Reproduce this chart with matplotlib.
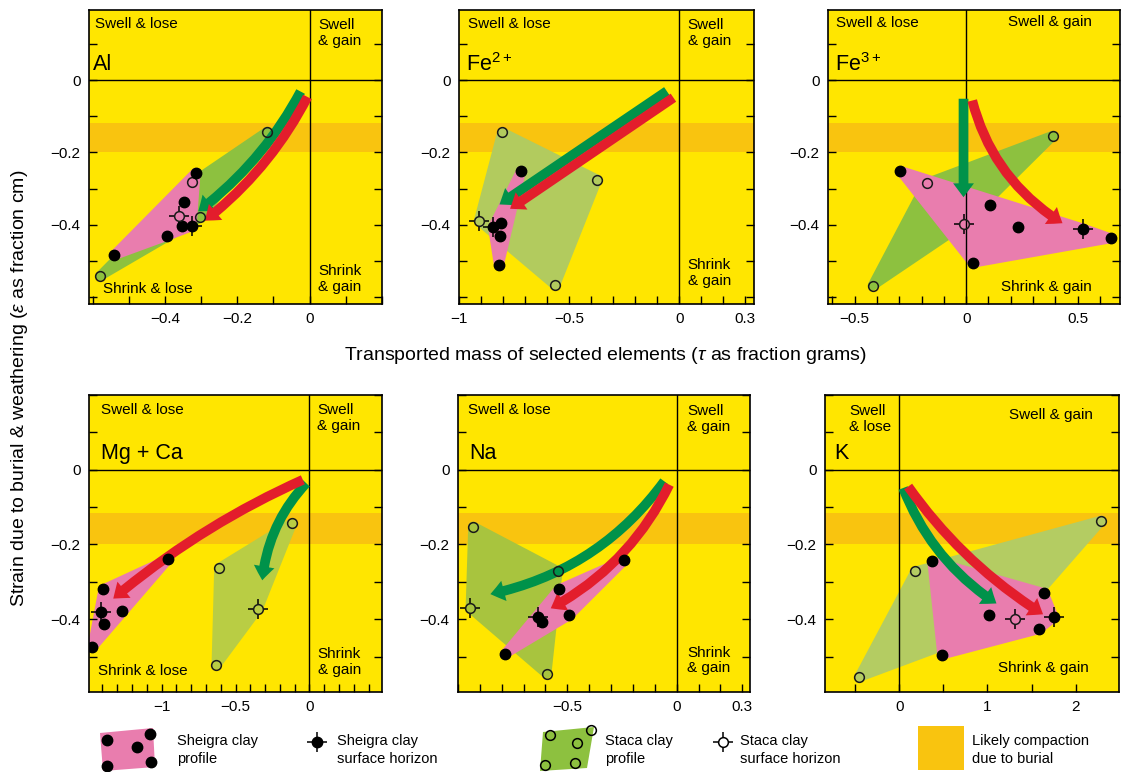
import numpy as np
import matplotlib
matplotlib.use('Agg')
import matplotlib.pyplot as plt
from matplotlib.patches import Polygon, FancyArrowPatch, Rectangle
from matplotlib.path import Path
from matplotlib.ticker import MultipleLocator, FixedLocator, FuncFormatter

plt.rcParams['font.family'] = ['Liberation Sans', 'DejaVu Sans']
plt.rcParams['mathtext.fontset'] = 'custom'
plt.rcParams['mathtext.rm'] = 'Liberation Sans'
plt.rcParams['mathtext.it'] = 'Liberation Sans:italic'

YELLOW = '#FFE600'
ORANGE = '#F9C40F'
PINK = '#E97DAE'
GREEN_ARROW = '#00924A'
RED_ARROW = '#E31D2C'

# likely compaction band (strain)
band = (-0.2, -0.117)

# ---- Al ----
al_sheigra = [(-0.315, -0.256), (-0.348, -0.337), (-0.354, -0.404), (-0.394, -0.431), (-0.541, -0.485)]
al_sheigra_surf = (-0.326, -0.405)
al_staca = [(-0.117, -0.142), (-0.324, -0.283), (-0.302, -0.380), (-0.579, -0.542)]
al_staca_surf = (-0.360, -0.377)
al_green = [(-0.025, -0.031), (-0.308, -0.363)]
al_red = [(-0.006, -0.046), (-0.290, -0.389)]

# ---- Fe2+ ----
fe2_sheigra = [(-0.718, -0.251), (-0.809, -0.396), (-0.816, -0.431), (-0.819, -0.513)]
fe2_sheigra_surf = (-0.846, -0.407)
fe2_staca = [(-0.804, -0.144), (-0.372, -0.275), (-0.563, -0.568)]
fe2_staca_surf = (-0.910, -0.389)
fe2_green = [(-0.056, -0.030), (-0.816, -0.344)]
fe2_red = [(-0.026, -0.048), (-0.768, -0.356)]

# ---- Fe3+ ----
fe3_sheigra = [(-0.295, -0.251), (0.109, -0.345), (0.231, -0.407), (0.649, -0.438), (0.030, -0.506)]
fe3_sheigra_surf = (0.526, -0.411)
fe3_staca = [(0.390, -0.153), (-0.178, -0.285), (-0.420, -0.569)]
fe3_staca_surf = (-0.010, -0.398)
fe3_green = [(-0.012, -0.051), (-0.012, -0.324)]
fe3_red = [(0.027, -0.056), (0.432, -0.396)]

# ---- Mg + Ca ----
mgca_sheigra = [(-0.955, -0.240), (-1.393, -0.320), (-1.265, -0.378), (-1.389, -0.414), (-1.467, -0.475)]
mgca_sheigra_surf = (-1.411, -0.381)
mgca_staca = [(-0.117, -0.143), (-0.611, -0.263), (-0.629, -0.522)]
mgca_staca_surf = (-0.348, -0.372)
mgca_green = [(-0.022, -0.036), (-0.319, -0.296)]
mgca_red = [(-0.045, -0.027), (-1.326, -0.345)]

# ---- Na ----
na_sheigra = [(-0.240, -0.243), (-0.538, -0.320), (-0.492, -0.390), (-0.615, -0.408), (-0.783, -0.492)]
na_sheigra_surf = (-0.635, -0.394)
na_staca = [(-0.931, -0.152), (-0.544, -0.271), (-0.595, -0.546)]
na_staca_surf = (-0.943, -0.371)
na_green = [(-0.057, -0.031), (-0.852, -0.333)]
na_red = [(-0.034, -0.040), (-0.576, -0.371)]

# ---- K ----
k_sheigra = [(0.374, -0.245), (1.638, -0.330), (1.015, -0.389), (1.581, -0.427), (0.487, -0.495)]
k_sheigra_surf = (1.751, -0.395)
k_staca = [(2.291, -0.136), (0.185, -0.272), (-0.453, -0.555)]
k_staca_surf = (1.317, -0.399)
k_green = [(0.045, -0.049), (1.102, -0.358)]
k_red = [(0.102, -0.045), (1.630, -0.387)]

y_ticks = [-0.4, -0.2, 0]


def convex_hull(points):
    pts = sorted(set(points))

    def cross(o, a, b):
        return (a[0] - o[0]) * (b[1] - o[1]) - (a[1] - o[1]) * (b[0] - o[0])

    lower, upper = [], []
    for p in pts:
        while len(lower) >= 2 and cross(lower[-2], lower[-1], p) <= 0:
            lower.pop()
        lower.append(p)
    for p in reversed(pts):
        while len(upper) >= 2 and cross(upper[-2], upper[-1], p) <= 0:
            upper.pop()
        upper.append(p)
    return lower[:-1] + upper[:-1]


# crosshair marker (ticks outside the circle only)
cross_path = Path([(0.5, 0), (1, 0), (-0.5, 0), (-1, 0), (0, 0.5), (0, 1), (0, -0.5), (0, -1)],
                  [Path.MOVETO, Path.LINETO] * 4)


def fmt(v, pos=None):
    return ('%g' % v).replace('-', '\u2212')


panels = [
    dict(name='Al', sheigra=al_sheigra, sheigra_surf=al_sheigra_surf, staca=al_staca,
         staca_surf=al_staca_surf, green=al_green, red=al_red, rad_g=-0.11, rad_r=-0.11,
         xlim=(-0.61, 0.2), xticks=[-0.4, -0.2, 0], xminor=0.1, ylim=(-0.62, 0.195),
         pos=(89, 10, 293, 294), poly='#8DC13F',
         texts=[('Swell & lose', 0.020, 0.952), ('Swell\n& gain', 0.782, 0.922),
                ('Shrink & lose', 0.048, 0.051), ('Shrink\n& gain', 0.782, 0.085)],
         label_xy=(0.014, 0.813)),
    dict(name='Fe$^{2+}$', sheigra=fe2_sheigra, sheigra_surf=fe2_sheigra_surf, staca=fe2_staca,
         staca_surf=fe2_staca_surf, green=fe2_green, red=fe2_red, rad_g=0.0, rad_r=0.0,
         xlim=(-1.0, 0.34), xticks=[-1, -0.5, 0, 0.3], xminor=0.1, ylim=(-0.62, 0.195),
         pos=(459, 10, 295, 294), poly='#B2CB5E',
         texts=[('Swell & lose', 0.031, 0.952), ('Swell\n& gain', 0.775, 0.922),
                ('Shrink\n& gain', 0.775, 0.105)],
         label_xy=(0.023, 0.816)),
    dict(name='Fe$^{3+}$', sheigra=fe3_sheigra, sheigra_surf=fe3_sheigra_surf, staca=fe3_staca,
         staca_surf=fe3_staca_surf, green=fe3_green, red=fe3_red, rad_g=0.0, rad_r=0.2,
         xlim=(-0.62, 0.69), xticks=[-0.5, 0, 0.5], xminor=0.1, ylim=(-0.62, 0.195),
         pos=(828, 10, 292, 294), poly='#8DC13F',
         texts=[('Swell & lose', 0.027, 0.955), ('Swell & gain', 0.616, 0.958),
                ('Shrink & gain', 0.592, 0.059)],
         label_xy=(0.024, 0.816)),
    dict(name='Mg + Ca', sheigra=mgca_sheigra, sheigra_surf=mgca_sheigra_surf, staca=mgca_staca,
         staca_surf=mgca_staca_surf, green=mgca_green, red=mgca_red, rad_g=0.17, rad_r=0.07,
         xlim=(-1.49, 0.49), xticks=[-1, -0.5, 0], xminor=0.1, ylim=(-0.595, 0.2),
         pos=(89, 395, 293, 297), poly='#B9CD44',
         texts=[('Swell & lose', 0.040, 0.949), ('Swell\n& gain', 0.779, 0.923),
                ('Shrink & lose', 0.032, 0.071), ('Shrink\n& gain', 0.781, 0.101)],
         label_xy=(0.040, 0.804)),
    dict(name='Na', sheigra=na_sheigra, sheigra_surf=na_sheigra_surf, staca=na_staca,
         staca_surf=na_staca_surf, green=na_green, red=na_red, rad_g=-0.19, rad_r=-0.16,
         xlim=(-1.0, 0.335), xticks=[-0.5, 0, 0.3], xminor=0.1, ylim=(-0.595, 0.2),
         pos=(458, 395, 292, 297), poly='#A8C43E',
         texts=[('Swell & lose', 0.035, 0.949), ('Swell\n& gain', 0.785, 0.920),
                ('Shrink\n& gain', 0.785, 0.106)],
         label_xy=(0.038, 0.804)),
    dict(name='K', sheigra=k_sheigra, sheigra_surf=k_sheigra_surf, staca=k_staca,
         staca_surf=k_staca_surf, green=k_green, red=k_red, rad_g=0.16, rad_r=0.1,
         xlim=(-0.84, 2.49), xticks=[0, 1, 2], xminor=0.5, ylim=(-0.595, 0.2),
         pos=(825, 395, 294, 297), poly='#B4CC62',
         texts=[('Swell\n& lose', 0.083, 0.920), ('Swell & gain', 0.627, 0.933),
                ('Shrink & gain', 0.590, 0.082)],
         label_xy=(0.031, 0.804)),
]

W, H = 1122, 772
fig = plt.figure(figsize=(W / 100, H / 100), dpi=100)


def add_arrow(ax, seg, rad, color):
    arr = FancyArrowPatch(seg[0], seg[1], connectionstyle=f'arc3,rad={rad}',
                          arrowstyle='simple,head_length=10,head_width=15,tail_width=7',
                          mutation_scale=1, color=color, lw=0, shrinkA=0, shrinkB=0, zorder=2)
    ax.add_patch(arr)


for p in panels:
    left, top, w, h = p['pos']
    ax = fig.add_axes([left / W, 1 - (top + h) / H, w / W, h / H])
    ax.set_facecolor(YELLOW)
    ax.set_xlim(*p['xlim'])
    ax.set_ylim(*p['ylim'])
    ax.axhspan(band[0], band[1], color=ORANGE, lw=0, zorder=0.5)

    staca_pts = p['staca'] + [p['staca_surf']]
    sheigra_pts = p['sheigra'] + [p['sheigra_surf']]
    ax.add_patch(Polygon(convex_hull(staca_pts), closed=True, fc=p['poly'], ec=p['poly'],
                         lw=7, joinstyle='round', zorder=1))
    ax.add_patch(Polygon(convex_hull(sheigra_pts), closed=True, fc=PINK, ec=PINK,
                         lw=7, joinstyle='round', zorder=1.1))
    ax.axhline(0, color='k', lw=1, zorder=1.5)
    ax.axvline(0, color='k', lw=1, zorder=1.5)

    add_arrow(ax, p['green'], p['rad_g'], GREEN_ARROW)
    add_arrow(ax, p['red'], p['rad_r'], RED_ARROW)

    sx, sy = zip(*p['staca'])
    ax.plot(sx, sy, 'o', ms=7, mfc='none', mec='#1a1a1a', mew=1.1, zorder=3)
    hx, hy = zip(*p['sheigra'])
    ax.plot(hx, hy, 'o', ms=7.5, mfc='k', mec='k', zorder=3)
    ax.plot(*p['staca_surf'], marker=cross_path, ms=14, mew=1.1, color='k', zorder=3)
    ax.plot(*p['staca_surf'], 'o', ms=7, mfc='none', mec='#1a1a1a', mew=1.1, zorder=3)
    ax.plot(*p['sheigra_surf'], marker=cross_path, ms=14, mew=1.1, color='k', zorder=3)
    ax.plot(*p['sheigra_surf'], 'o', ms=7.5, mfc='k', mec='k', zorder=3)

    for txt, tx, ty in p['texts']:
        ax.text(tx, ty, txt, transform=ax.transAxes, fontsize=11, ha='left', va='center',
                linespacing=1.15, zorder=4)
    ax.text(p['label_xy'][0], p['label_xy'][1], p['name'], transform=ax.transAxes,
            fontsize=15.5, ha='left', va='center', zorder=4)

    ax.xaxis.set_major_locator(FixedLocator(p['xticks']))
    ax.xaxis.set_minor_locator(MultipleLocator(p['xminor']))
    ax.yaxis.set_major_locator(FixedLocator(y_ticks))
    ax.yaxis.set_minor_locator(MultipleLocator(0.1))
    ax.xaxis.set_major_formatter(FuncFormatter(fmt))
    ax.yaxis.set_major_formatter(FuncFormatter(fmt))
    ax.tick_params(which='both', direction='in', length=6, width=1, right=True, top=False,
                   labelsize=11, pad=6)
    for s in ax.spines.values():
        s.set_linewidth(1.2)

fig.text(605 / W, 1 - 355 / H, r'Transported mass of selected elements ($\tau$ as fraction grams)',
         ha='center', va='center', fontsize=14)
fig.text(20 / W, 1 - 388 / H, r'Strain due to burial & weathering ($\varepsilon$ as fraction cm)',
         ha='center', va='center', fontsize=14, rotation=90)

# ---- legend strip (pixel coordinates of the figure) ----
lg = fig.add_axes([0, 0, 1, 52 / H])
lg.set_xlim(0, W)
lg.set_ylim(H, H - 52)
lg.axis('off')

lg.add_patch(Polygon([(100, 733), (153, 728), (155, 767), (103, 771)], fc=PINK, ec='none'))
lg.plot([107, 150, 137, 107, 151], [740, 734, 747, 766, 762], 'o', ms=7.5, color='k')
lg.text(177, 750, 'Sheigra clay\nprofile', fontsize=10.5, va='center', linespacing=1.3)

lg.plot(317, 742, marker=cross_path, ms=14, mew=1.1, color='k')
lg.plot(317, 742, 'o', ms=7.5, color='k')
lg.text(337, 750, 'Sheigra clay\nsurface horizon', fontsize=10.5, va='center', linespacing=1.3)

lg.add_patch(Polygon([(543, 732), (594, 727), (587, 768), (540, 771)], fc='#8DC13F', ec='none'))
lg.plot([550, 591, 577, 545, 575], [735, 730, 743, 765, 763], 'o', ms=7, mfc='none', mec='k', mew=1.1)
lg.text(605, 750, 'Staca clay\nprofile', fontsize=10.5, va='center', linespacing=1.3)

lg.plot(723, 742, marker=cross_path, ms=14, mew=1.1, color='k')
lg.plot(723, 742, 'o', ms=7, mfc='white', mec='k', mew=1.1)
lg.text(740, 750, 'Staca clay\nsurface horizon', fontsize=10.5, va='center', linespacing=1.3)

lg.add_patch(Rectangle((918, 726), 46, 44, fc=ORANGE, ec='none'))
lg.text(972, 750, 'Likely compaction\ndue to burial', fontsize=10.5, va='center', linespacing=1.3)

fig.savefig('out.png', dpi=100)
